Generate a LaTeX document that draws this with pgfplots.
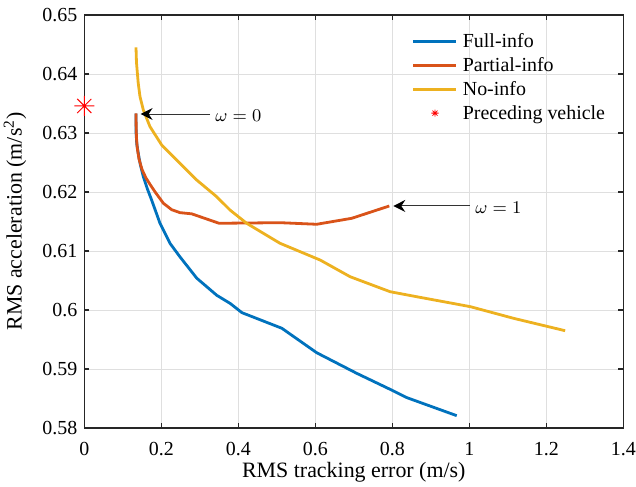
\documentclass[border=0pt]{standalone}
\usepackage{fontspec}
\setmainfont{Liberation Serif}
\usepackage{pgfplots}
\pgfplotsset{compat=1.18}
\usetikzlibrary{arrows.meta}
\definecolor{mblue}{rgb}{0,0.447,0.741}
\definecolor{morange}{rgb}{0.850,0.325,0.098}
\definecolor{myellow}{rgb}{0.929,0.694,0.125}
\definecolor{axgray}{rgb}{0.15,0.15,0.15}
\definecolor{gridgray}{rgb}{0.875,0.875,0.875}
\pgfdeclareplotmark{mstar}{%
  \pgfpathmoveto{\pgfqpoint{-\pgfplotmarksize}{0pt}}\pgfpathlineto{\pgfqpoint{\pgfplotmarksize}{0pt}}%
  \pgfpathmoveto{\pgfqpoint{0pt}{-\pgfplotmarksize}}\pgfpathlineto{\pgfqpoint{0pt}{\pgfplotmarksize}}%
  \pgfpathmoveto{\pgfqpoint{-0.7071\pgfplotmarksize}{-0.7071\pgfplotmarksize}}\pgfpathlineto{\pgfqpoint{0.7071\pgfplotmarksize}{0.7071\pgfplotmarksize}}%
  \pgfpathmoveto{\pgfqpoint{-0.7071\pgfplotmarksize}{0.7071\pgfplotmarksize}}\pgfpathlineto{\pgfqpoint{0.7071\pgfplotmarksize}{-0.7071\pgfplotmarksize}}%
  \pgfusepathqstroke}

\pgfplotstableread{
x y
0.1343 0.6333
0.1346 0.6300
0.1362 0.6282
0.1403 0.6265
0.1460 0.6245
0.1533 0.6226
0.1640 0.6205
0.1751 0.6186
0.1966 0.6147
0.2226 0.6113
0.2486 0.6090
0.2920 0.6054
0.3439 0.6025
0.3792 0.6011
0.4094 0.59955
0.5132 0.5969
0.6036 0.59276
0.7075 0.58927
0.8034 0.58627
0.8381 0.58514
0.9673 0.58209
}\fullinfo

\pgfplotstableread{
x y
0.1343 0.63334
0.1347 0.6310
0.1355 0.6292
0.1375 0.6275
0.1420 0.6256
0.1500 0.6238
0.1600 0.6224
0.1707 0.6213
0.1840 0.6200
0.2053 0.6181
0.2270 0.6170
0.2486 0.6165
0.2790 0.6163
0.3500 0.6147
0.5083 0.6148
0.6036 0.61453
0.6945 0.61554
0.7922 0.61763
}\partialinfo

\pgfplotstableread{
x y
0.1343 0.64452
0.1355 0.6420
0.1379 0.64012
0.1400 0.6385
0.1447 0.63615
0.1533 0.6339
0.1707 0.63107
0.2010 0.62797
0.2574 0.62429
0.2920 0.62203
0.3439 0.6192
0.3784 0.61695
0.4218 0.61469
0.5083 0.61131
0.6126 0.60847
0.6905 0.60564
0.7944 0.6031
0.8634 0.60225
0.9670 0.6010
1.0030 0.60056
1.1150 0.59859
1.2490 0.59649
}\noinfo

\begin{document}
\begin{tikzpicture}
\begin{axis}[
  name=ax,
  scale only axis,
  width=269.5bp, height=206.5bp,
  xmin=0, xmax=1.4, ymin=0.58, ymax=0.65,
  xtick={0,0.2,0.4,0.6,0.8,1,1.2,1.4},
  ytick={0.58,0.59,0.6,0.61,0.62,0.63,0.64,0.65},
  yticklabel style={/pgf/number format/fixed, /pgf/number format/precision=2},
  grid=major,
  major grid style={gridgray, line width=0.5bp},
  axis line style={axgray, line width=0.6bp},
  tick style={axgray, line width=0.6bp},
  tick align=inside, major tick length=2.6bp,
  tick pos=both, ticklabel pos=left,
  tick label style={font=\fontsize{10}{12}\selectfont, /pgf/number format/assume math mode=true},
  xticklabel style={yshift=-3.8bp},
  label style={font=\fontsize{11}{13}\selectfont},
  xlabel={RMS tracking error (m/s)},
  ylabel={RMS acceleration (m/s\textsuperscript{2})},
  xlabel style={at={(axis description cs:0.5,-0.1187)}, anchor=base},
  ylabel style={at={(axis description cs:-0.1162,0.5)}, anchor=base},
  clip=false,
  legend cell align=left,
  legend style={draw=none, fill=none, at={(0.6074,0.9668)}, anchor=north west,
    inner sep=0pt, font=\fontsize{10}{12}\selectfont, row sep=0pt, column sep=1.5bp,
    nodes={text height=8.3bp, text depth=1.7bp, inner sep=1bp}},
  legend image code/.code={\draw[#1] (0bp,0bp) -- (21.5bp,0bp);},
]
\addplot[mblue, line width=1.4bp, line join=round] table[x=x,y=y] {\fullinfo};
\addlegendentry{Full-info}
\addplot[morange, line width=1.4bp, line join=round] table[x=x,y=y] {\partialinfo};
\addlegendentry{Partial-info}
\addplot[myellow, line width=1.4bp, line join=round] table[x=x,y=y] {\noinfo};
\addlegendentry{No-info}
\addplot[only marks, mark=mstar, mark size=5bp, red, line width=0.5bp,
  legend image code/.code={\draw[red, line width=0.4bp, mark=mstar, mark size=1.8bp] plot coordinates {(10.75bp,0bp)};}]
  coordinates {(0,0.63458)};
\addlegendentry{Preceding vehicle}

\draw[black!80, line width=0.5bp, -{Stealth[length=6bp,width=6bp,inset=2bp,black]}]
  (axis cs:0.3265,0.63322) -- (axis cs:0.1463,0.63322);
\node[anchor=west, inner sep=0pt, font=\fontsize{9.5}{11}\selectfont, yshift=-1bp]
  at (axis cs:0.3395,0.63322) {$\omega = 0$};
\draw[black!80, line width=0.5bp, -{Stealth[length=6bp,width=6bp,inset=2bp,black]}]
  (axis cs:1.0018,0.61763) -- (axis cs:0.8026,0.61763);
\node[anchor=west, inner sep=0pt, font=\fontsize{9.5}{11}\selectfont, yshift=-0.75bp]
  at (axis cs:1.0148,0.61763) {$\omega = 1$};
\end{axis}
\pgfresetboundingbox
\path[use as bounding box] (ax.south west) ++(-42.15bp,-29.5bp) rectangle ++(318bp,243.5bp);
\end{tikzpicture}
\end{document}
